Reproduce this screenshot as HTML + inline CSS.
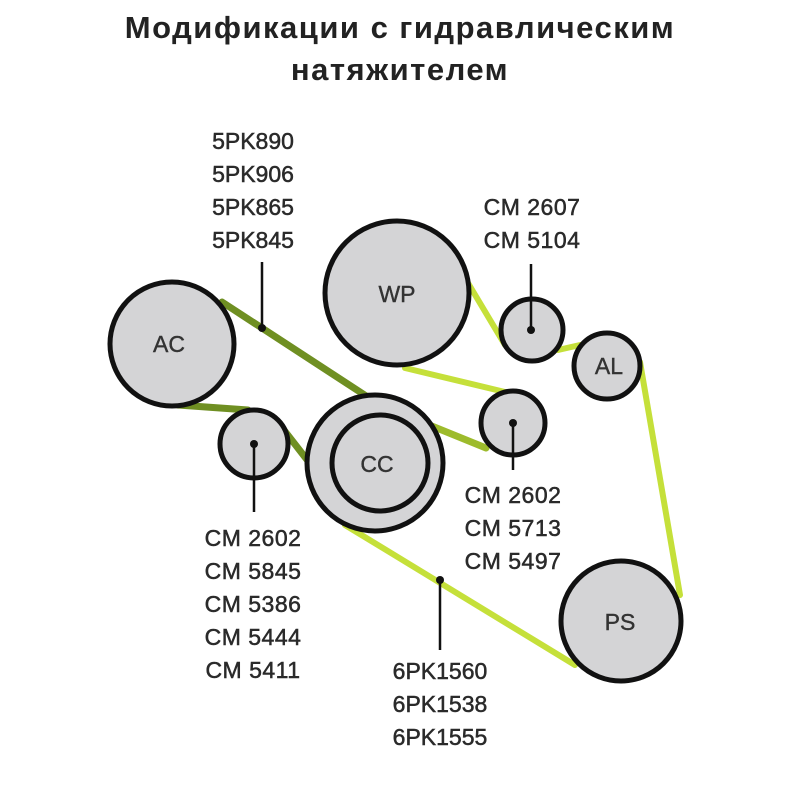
<!DOCTYPE html>
<html><head><meta charset="utf-8"><style>
html,body{margin:0;padding:0;background:#fff;width:800px;height:800px;overflow:hidden}
</style></head><body>
<svg width="800" height="800" viewBox="0 0 800 800" xmlns="http://www.w3.org/2000/svg" font-family="Liberation Sans, DejaVu Sans, sans-serif">
<text x="400" y="38" text-anchor="middle" font-size="31" font-weight="bold" fill="#222" letter-spacing="1.5">Модификации с гидравлическим</text>
<text x="400" y="80" text-anchor="middle" font-size="31" font-weight="bold" fill="#222" letter-spacing="1.5">натяжителем</text>
<g stroke-linecap="round" fill="none">
<line x1="222" y1="302" x2="380" y2="405" stroke="#6f8f22" stroke-width="7"/>
<line x1="380" y1="405" x2="486" y2="448" stroke="#9dbb2c" stroke-width="7"/>
<line x1="178" y1="405" x2="248" y2="410" stroke="#6f8f22" stroke-width="7"/>
<line x1="280" y1="425" x2="315" y2="470" stroke="#6f8f22" stroke-width="7"/>
<line x1="468" y1="283" x2="505" y2="345" stroke="#c5e03a" stroke-width="6"/>
<line x1="558" y1="350" x2="580" y2="345" stroke="#c5e03a" stroke-width="6"/>
<line x1="640" y1="362" x2="680" y2="595" stroke="#c5e03a" stroke-width="6"/>
<line x1="575" y1="665" x2="345" y2="525" stroke="#c5e03a" stroke-width="6"/>
<line x1="405" y1="368" x2="505" y2="392" stroke="#c5e03a" stroke-width="6"/>
</g>
<g fill="#d4d4d6" stroke="#111" stroke-width="5">
<circle cx="172" cy="344" r="62"/>
<circle cx="397" cy="293" r="72"/>
<circle cx="532" cy="330" r="31"/>
<circle cx="607" cy="366" r="33"/>
<circle cx="513" cy="423" r="32"/>
<circle cx="254" cy="444" r="34"/>
<circle cx="375" cy="463" r="68"/>
<circle cx="380" cy="463" r="48"/>
<circle cx="621" cy="621" r="60"/>
</g>
<g font-size="23" fill="#333" stroke="#333" stroke-width="0.4" text-anchor="middle">
<text x="169" y="352">AC</text>
<text x="397" y="302">WP</text>
<text x="609" y="374">AL</text>
<text x="377" y="472">CC</text>
<text x="620" y="630">PS</text>
</g>
<g stroke="#111" stroke-width="2.5">
<line x1="262" y1="262" x2="262" y2="328"/>
<line x1="531" y1="264" x2="531" y2="330"/>
<line x1="513" y1="423" x2="513" y2="470"/>
<line x1="254" y1="444" x2="254" y2="512"/>
<line x1="440" y1="580" x2="440" y2="650"/>
</g>
<g fill="#111">
<circle cx="262" cy="328" r="4"/><circle cx="531" cy="330" r="4"/><circle cx="513" cy="423" r="4"/><circle cx="254" cy="444" r="4"/><circle cx="440" cy="580" r="4"/>
</g>
<g font-size="23" fill="#2a2a2a" stroke="#2a2a2a" stroke-width="0.5" text-anchor="middle">
<text x="253" y="149">5PK890</text><text x="253" y="182">5PK906</text><text x="253" y="215">5PK865</text><text x="253" y="248">5PK845</text>
<text x="532" y="215" letter-spacing="0.5">CM 2607</text><text x="532" y="248" letter-spacing="0.5">CM 5104</text>
<text x="513" y="503" letter-spacing="0.5">CM 2602</text><text x="513" y="536" letter-spacing="0.5">CM 5713</text><text x="513" y="569" letter-spacing="0.5">CM 5497</text>
<text x="253" y="546" letter-spacing="0.5">CM 2602</text><text x="253" y="579" letter-spacing="0.5">CM 5845</text><text x="253" y="612" letter-spacing="0.5">CM 5386</text><text x="253" y="645" letter-spacing="0.5">CM 5444</text><text x="253" y="678" letter-spacing="0.5">CM 5411</text>
<text x="440" y="679">6PK1560</text><text x="440" y="712">6PK1538</text><text x="440" y="745">6PK1555</text>
</g>
</svg>
</body></html>
